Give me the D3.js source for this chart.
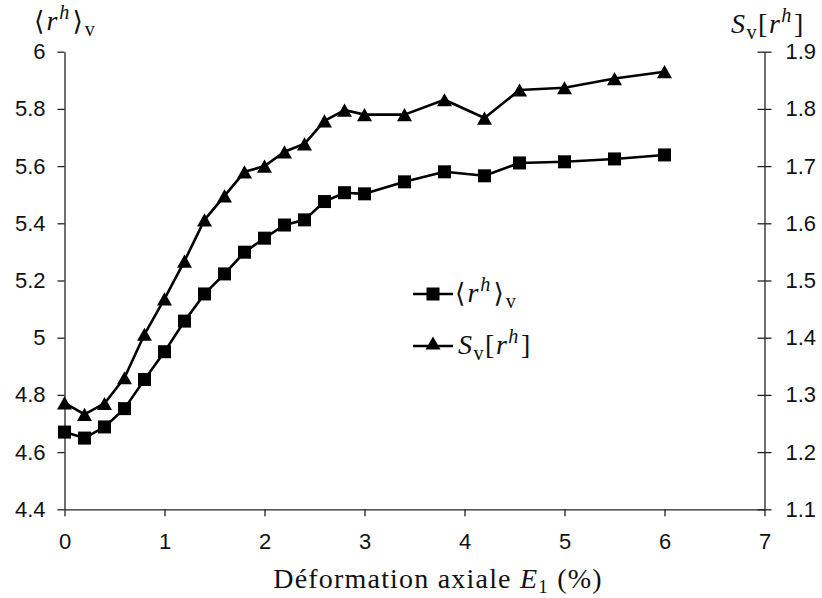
<!DOCTYPE html>
<html><head><meta charset="utf-8">
<script src="https://cdn.jsdelivr.net/npm/d3@7"></script>
<style>
body{margin:0;background:#fff;}
svg{display:block;}
.tick text{font-family:"Liberation Sans",Arial,sans-serif;font-size:22px;fill:#111;}
.math{font-family:"Liberation Serif","DejaVu Serif",serif;fill:#111;}
</style></head><body>
<svg id="c" width="822" height="598"></svg>
<script>
const strain = [0,0.2,0.4,0.6,0.8,1.0,1.2,1.4,1.6,1.8,2.0,2.2,2.4,2.6,2.8,3.0,3.4,3.8,4.2,4.55,5.0,5.5,6.0];
const meanR = [4.670,4.649,4.688,4.752,4.854,4.951,5.058,5.153,5.223,5.299,5.348,5.394,5.412,5.476,5.507,5.503,5.545,5.580,5.566,5.611,5.615,5.625,5.639];
const sdR = [1.286,1.266,1.285,1.330,1.406,1.468,1.534,1.606,1.648,1.690,1.700,1.725,1.739,1.779,1.798,1.790,1.790,1.816,1.784,1.833,1.837,1.853,1.865];
const xTicks = [0,1,2,3,4,5,6,7];
const yLeftTicks = [4.4,4.6,4.8,5.0,5.2,5.4,5.6,5.8,6.0];
const yRightTicks = [1.1,1.2,1.3,1.4,1.5,1.6,1.7,1.8,1.9];

const svg = d3.select("#c");
const x = d3.scaleLinear().domain([0,7]).range([64.5,764.5]);
const yL = d3.scaleLinear().domain([4.4,6]).range([509.3,51.7]);
const yR = d3.scaleLinear().domain([1.1,1.9]).range([509.3,51.7]);

// axes
const gx = svg.append("g").attr("transform","translate(0,509.3)")
  .call(d3.axisBottom(x).tickValues(xTicks).tickFormat(d3.format("d")).tickSize(7).tickSizeOuter(0).tickPadding(17));
const gl = svg.append("g").attr("transform","translate(64.5,0)")
  .call(d3.axisLeft(yL).tickValues(yLeftTicks).tickFormat(d=>d3.format("")(+d.toFixed(1))).tickSize(7).tickSizeOuter(0).tickPadding(12));
const gr = svg.append("g").attr("transform","translate(764.5,0)")
  .call(d3.axisRight(yR).tickValues(yRightTicks).tickFormat(d3.format(".1f")).tickSize(7).tickSizeOuter(0).tickPadding(14));
gr.selectAll(".tick line").attr("x1",-7);
[gx,gl,gr].forEach(g=>{
  g.select(".domain").attr("stroke","#222").attr("stroke-width",1.3);
  g.selectAll(".tick line").attr("stroke","#222").attr("stroke-width",1.3);
});
gx.selectAll(".tick text").attr("dy","0.71em");

// lines
const lineL = d3.line().x((d,i)=>x(strain[i])).y(d=>yL(d));
const lineR = d3.line().x((d,i)=>x(strain[i])).y(d=>yR(d));
svg.append("path").datum(meanR).attr("d",lineL).attr("fill","none").attr("stroke","#000").attr("stroke-width",2.6).attr("stroke-linejoin","round");
svg.append("path").datum(sdR).attr("d",lineR).attr("fill","none").attr("stroke","#000").attr("stroke-width",2.6).attr("stroke-linejoin","round");

function tri(w){const h=w*0.88;return `M0,${-h/2}L${w/2},${h/2}L${-w/2},${h/2}Z`;}
svg.append("g").selectAll("rect").data(meanR).join("rect")
  .attr("x",(d,i)=>x(strain[i])-6.5).attr("y",d=>yL(d)-6.5).attr("width",13).attr("height",13).attr("fill","#000");
svg.append("g").selectAll("path").data(sdR).join("path")
  .attr("transform",(d,i)=>`translate(${x(strain[i])},${yR(d)})`).attr("d",tri(15)).attr("fill","#000");

// legend
svg.append("line").attr("x1",413).attr("x2",453).attr("y1",294).attr("y2",294).attr("stroke","#000").attr("stroke-width",2.6);
svg.append("rect").attr("x",426.5).attr("y",287.5).attr("width",13).attr("height",13).attr("fill","#000");
svg.append("line").attr("x1",413).attr("x2",453).attr("y1",346).attr("y2",346).attr("stroke","#000").attr("stroke-width",2.6);
svg.append("path").attr("transform","translate(433,343)").attr("d",tri(15)).attr("fill","#000");

function meanLabel(g, x0, y0, fs){
  const t = g.append("text").attr("class","math").attr("x",x0).attr("y",y0).attr("font-size",fs).attr("letter-spacing",2);
  t.append("tspan").attr("font-family","DejaVu Serif").attr("font-size",fs*0.95).text("⟨");
  t.append("tspan").attr("font-style","italic").text("r");
  t.append("tspan").attr("font-style","italic").attr("font-size",fs*0.72).attr("dy",-fs*0.4).text("h");
  t.append("tspan").attr("font-family","DejaVu Serif").attr("font-size",fs*0.95).attr("dy",fs*0.4).attr("dx",1).text("⟩");
  t.append("tspan").attr("font-size",fs*0.72).attr("dy",fs*0.2).text("v");
  return t;
}
function sdLabel(g, x0, y0, fs){
  const t = g.append("text").attr("class","math").attr("x",x0).attr("y",y0).attr("font-size",fs).attr("letter-spacing",1.5);
  t.append("tspan").attr("font-style","italic").text("S");
  t.append("tspan").attr("font-size",fs*0.72).attr("dy",fs*0.2).text("v");
  t.append("tspan").attr("dy",-fs*0.2).text("[");
  t.append("tspan").attr("font-style","italic").text("r");
  t.append("tspan").attr("font-style","italic").attr("font-size",fs*0.72).attr("dy",-fs*0.4).text("h");
  t.append("tspan").attr("dy",fs*0.4).attr("dx",1).text("]");
  return t;
}
meanLabel(svg, 455, 302, 28);
sdLabel(svg, 458, 354, 28);
meanLabel(svg, 34, 30, 28);
sdLabel(svg, 731, 33, 28);

// x label
const xl = svg.append("text").attr("class","math").attr("x",438).attr("y",588).attr("text-anchor","middle").attr("font-size",28).attr("letter-spacing",1.2);
xl.append("tspan").text("Déformation axiale ");
xl.append("tspan").attr("font-style","italic").text("E");
xl.append("tspan").attr("font-size",19).attr("dy",5).text("1");
xl.append("tspan").attr("dy",-5).text(" (%)");
</script></body></html>
